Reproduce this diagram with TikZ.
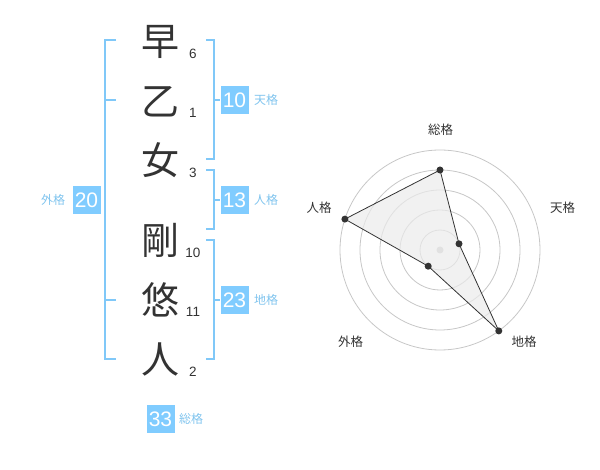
\documentclass[tikz,border=0pt]{standalone}
\usepackage{fontspec}
\setmainfont{Liberation Sans}
\newfontfamily\jp{Noto Sans CJK JP}
\definecolor{bl}{HTML}{80C8F8}
\definecolor{bx}{HTML}{80CCFF}
\definecolor{lb}{HTML}{80C4EE}
\definecolor{ink}{HTML}{333333}
\begin{document}
\begin{tikzpicture}[x=1pt,y=-1pt,
  kan/.style={anchor=base,inner sep=0,font=\jp\fontsize{38}{38}\selectfont,text=ink},
  cnt/.style={anchor=base,inner sep=0,font=\fontsize{13.5}{13.5}\selectfont,text=ink},
  numbox/.style={fill=bx,minimum width=28pt,minimum height=28pt,inner sep=0,text=white,font=\fontsize{21}{21}\selectfont},
  lab/.style={anchor=base,inner sep=0,font=\jp\fontsize{12}{12}\selectfont,text=lb},
  rlab/.style={anchor=base,inner sep=0,font=\jp\fontsize{12.5}{12.5}\selectfont,text=ink},
  brk/.style={draw=bl,line width=1.8pt},
  grid/.style={draw=black!22,line width=0.8pt},
  dot/.style={circle,fill=ink,inner sep=0,minimum size=7pt}]
\useasboundingbox (0,0) rectangle (600,470);
% kanji
\node[kan] (k1) at (160,41.5+14.2) {早};
\node[kan] (k2) at (160,101+14.2) {乙};
\node[kan] (k3) at (160,160.5+14.2) {女};
\node[kan] (k4) at (160,240.5+14.2) {剛};
\node[kan] (k5) at (160,300+14.2) {悠};
\node[kan] (k6) at (160,359.5+14.2) {人};
% stroke counts
\node[cnt] (c1) at (193,53.5+4.8) {6};
\node[cnt] (c2) at (193,113+4.8) {1};
\node[cnt] (c3) at (193,172.5+4.8) {3};
\node[cnt] (c4) at (193,252.5+4.8) {10};
\node[cnt] (c5) at (193,312+4.8) {11};
\node[cnt] (c6) at (193,371.5+4.8) {2};
% boxes
\node[numbox] (ten) at (234.5,100) {10};
\node[numbox] (jin) at (234.5,200) {13};
\node[numbox] (chi) at (234.5,300) {23};
\node[numbox] (gai) at (86.5,200) {20};
\node[numbox] (sou) at (160.5,419) {33};
\node[lab] (tenl) at (266,100+4.6) {天格};
\node[lab] (jinl) at (266,200+4.6) {人格};
\node[lab] (chil) at (266,300+4.6) {地格};
\node[lab] (gail) at (53,200+4.6) {外格};
\node[lab] (soul) at (191,419+4.6) {総格};
% brackets
\coordinate (a1) at (206,40); \coordinate (a2) at (214.3,40);
\coordinate (a3) at (214.3,159.3); \coordinate (a4) at (206,159.3);
\coordinate (am) at (214.3,100);
\draw[brk] (a1) -- (a2) -- (a3) -- (a4);
\draw[brk] (am) -- (ten.west);
\coordinate (b1) at (206,170); \coordinate (b2) at (214.3,170);
\coordinate (b3) at (214.3,229.3); \coordinate (b4) at (206,229.3);
\coordinate (bm) at (214.3,200);
\draw[brk] (b1) -- (b2) -- (b3) -- (b4);
\draw[brk] (bm) -- (jin.west);
\coordinate (d1) at (206,240); \coordinate (d2) at (214.3,240);
\coordinate (d3) at (214.3,359); \coordinate (d4) at (206,359);
\coordinate (dm) at (214.3,300);
\draw[brk] (d1) -- (d2) -- (d3) -- (d4);
\draw[brk] (dm) -- (chi.west);
\coordinate (g1) at (116,40); \coordinate (g2) at (105,40);
\coordinate (g3) at (105,359); \coordinate (g4) at (116,359);
\coordinate (g5) at (105,100); \coordinate (g6) at (116,100);
\coordinate (g7) at (105,300); \coordinate (g8) at (116,300);
\draw[brk] (g1) -- (g2) -- (g3) -- (g4);
\draw[brk] (g5) -- (g6);
\draw[brk] (g7) -- (g8);
% radar
\coordinate (o) at (440,250);
\foreach \r in {20,40,60,80,100} \draw[grid] (o) circle[radius=\r];
\fill[black!20] (o) circle[radius=3.5];
\coordinate (ps) at (440,170);
\coordinate (pt) at (459.0,243.8);
\coordinate (pc) at (498.8,330.9);
\coordinate (pg) at (428.2,266.2);
\coordinate (pj) at (344.9,219.1);
\filldraw[fill=black!8,fill opacity=0.7,draw=ink,line width=0.8pt]
  (ps) -- (pt) -- (pc) -- (pg) -- (pj) -- cycle;
\foreach \p in {ps,pt,pc,pg,pj} \node[dot] (d\p) at (\p) {};
\node[rlab] (rs) at (440.5,130+4.8) {総格};
\node[rlab] (rt) at (562.5,208+4.8) {天格};
\node[rlab] (rj) at (319,208+4.8) {人格};
\node[rlab] (rg) at (350.5,342+4.8) {外格};
\node[rlab] (rc) at (524,342+4.8) {地格};
\end{tikzpicture}
\end{document}
